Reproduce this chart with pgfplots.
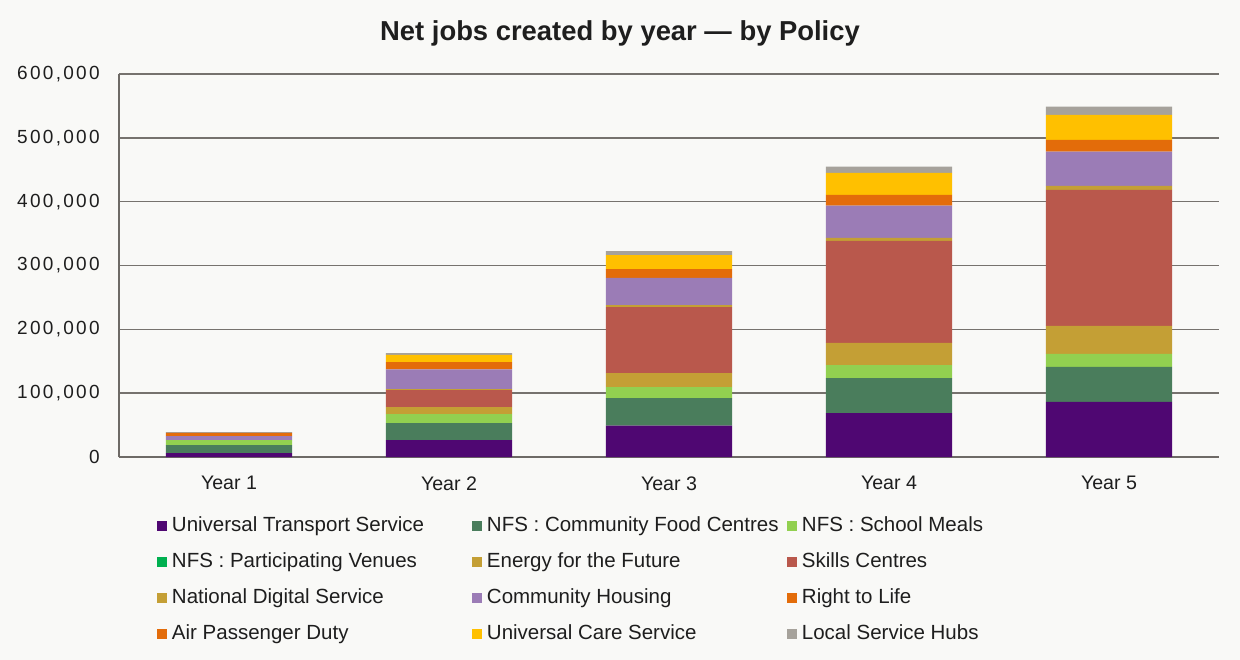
\documentclass[border=0pt]{standalone}
\usepackage{pgfplots}
\pgfplotsset{compat=1.18}
\usepackage{fontspec}
\setmainfont{Liberation Sans}
\newfontfamily\numfont[LetterSpace=12]{Liberation Sans}

\definecolor{bg}{RGB}{249,249,247}
\definecolor{gridc}{RGB}{118,114,110}
\definecolor{axisc}{RGB}{110,106,102}
\definecolor{txt}{RGB}{30,30,30}
\definecolor{cUTS}{RGB}{79,7,114}
\definecolor{cCFC}{RGB}{74,125,92}
\definecolor{cSM}{RGB}{146,208,80}
\definecolor{cPV}{RGB}{0,176,80}
\definecolor{cEFF}{RGB}{196,159,53}
\definecolor{cSKL}{RGB}{185,88,76}
\definecolor{cNDS}{RGB}{196,159,53}
\definecolor{cCH}{RGB}{155,124,182}
\definecolor{cRTL}{RGB}{227,108,10}
\definecolor{cAPD}{RGB}{227,108,10}
\definecolor{cUCS}{RGB}{255,192,0}
\definecolor{cLSH}{RGB}{166,162,155}

\newcommand{\entry}[1]{\makebox[150bp][l]{#1}}

\begin{document}
\begin{tikzpicture}
\path[fill=bg, use as bounding box] (0,0) rectangle (620bp,330bp);

\node[text=txt, font=\fontsize{13.7bp}{16bp}\selectfont\bfseries] at (310bp,313.5bp)
  {Net jobs created by year — by Policy};

\begin{axis}[
  at={(59.5bp,101.5bp)}, anchor=south west,
  scale only axis, width=550bp, height=191.5bp,
  ybar stacked, bar width=63bp,
  xmin=-0.5, xmax=4.5, ymin=0, ymax=600000,
  xtick={0,1,2,3,4},
  xticklabels={Year 1,Year 2,Year 3,Year 4,Year 5},
  ytick={0,100000,200000,300000,400000,500000,600000},
  scaled y ticks=false,
  /pgf/number format/fixed,
  /pgf/number format/1000 sep={,},
  /pgf/number format/assume math mode=true,
  major tick length=0pt,
  axis x line*=bottom, axis y line*=left,
  axis line style={draw=axisc, line width=1.2bp, -},
  ymajorgrids, major grid style={draw=gridc, line width=0.7bp},
  ticklabel style={text=txt},
  yticklabel style={font=\numfont\fontsize{9.5bp}{11bp}\selectfont, inner sep=0pt, xshift=-9.5bp},
  xticklabel style={font=\fontsize{9.8bp}{12bp}\selectfont, inner sep=0pt, anchor=north, yshift=-9.5bp},
  every axis plot post/.append style={draw=none,
    legend image code/.code={\fill[##1, draw=none] (0bp,-2.5bp) rectangle (5bp,2.5bp);}},
  legend columns=3,
  legend style={draw=none, fill=none, inner sep=0pt, outer sep=0pt,
    at={(0.0345,-0.1548)}, anchor=north west,
    font=\fontsize{10.25bp}{12bp}\selectfont, text=txt,
    nodes={inner sep=0pt, text height=7.5bp, text depth=2.5bp},
    row sep=8bp,
    /tikz/every odd column/.append style={column sep=2.5bp},
    /tikz/every even column/.append style={column sep=0bp},
    cells={anchor=west}},
  clip=false,
]
% series stacked bottom to top, values per year 1..5
\addplot[fill=cUTS] coordinates {(0,6000) (1,26600) (2,49000) (3,68900) (4,86200)};
\addlegendentry{\entry{Universal Transport Service}}
\addplot[fill=cCFC] coordinates {(0,12500) (1,26600) (2,43400) (3,54800) (4,54800)};
\addlegendentry{\entry{NFS : Community Food Centres}}
\addplot[fill=cSM] coordinates {(0,7800) (1,14100) (2,17200) (3,20400) (4,20400)};
\addlegendentry{\entry{NFS : School Meals}}
\addplot[fill=cPV] coordinates {(0,0) (1,0) (2,0) (3,0) (4,0)};
\addlegendentry{\entry{NFS : Participating Venues}}
\addplot[fill=cEFF] coordinates {(0,0) (1,11000) (2,21900) (3,34500) (4,43900)};
\addlegendentry{\entry{Energy for the Future}}
\addplot[fill=cSKL] coordinates {(0,0) (1,26600) (2,103400) (3,159800) (4,213100)};
\addlegendentry{\entry{Skills Centres}}
\addplot[fill=cNDS] coordinates {(0,0) (1,1600) (2,3100) (3,4700) (4,6300)};
\addlegendentry{\entry{National Digital Service}}
\addplot[fill=cCH] coordinates {(0,6300) (1,30900) (2,42800) (3,50600) (4,53700)};
\addlegendentry{\entry{Community Housing}}
\addplot[fill=cRTL] coordinates {(0,5200) (1,11400) (2,13600) (3,16800) (4,18300)};
\addlegendentry{\entry{Right to Life}}
\addplot[fill=cAPD] coordinates {(0,0) (1,0) (2,0) (3,0) (4,0)};
\addlegendentry{\entry{Air Passenger Duty}}
\addplot[fill=cUCS] coordinates {(0,0) (1,11000) (2,21900) (3,34500) (4,39200)};
\addlegendentry{\entry{Universal Care Service}}
\addplot[fill=cLSH] coordinates {(0,1000) (1,3100) (2,6300) (3,9900) (4,13000)};
\addlegendentry{\entry{Local Service Hubs}}
\end{axis}
\end{tikzpicture}
\end{document}
